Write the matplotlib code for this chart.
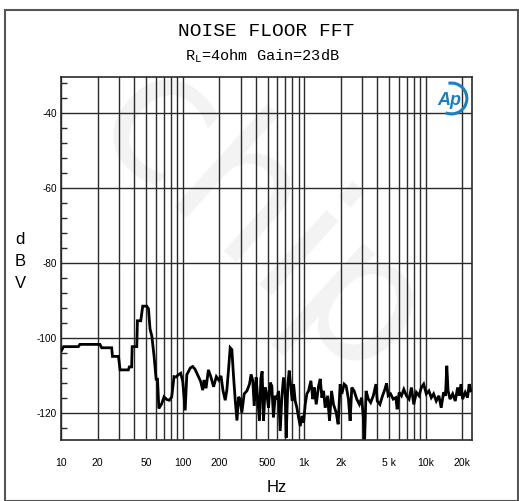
import matplotlib
matplotlib.use("Agg")
import matplotlib.pyplot as plt
from matplotlib.ticker import FixedLocator, NullLocator, MultipleLocator, NullFormatter
from matplotlib.patches import Arc, Rectangle

# noise floor FFT trace (Hz, dBV)
freq_hz = [
    10.1, 10.5, 13.9, 14.3, 20.9, 21.6, 26.1, 26.5, 29.7, 30.6, 35.8, 36.5, 38.1,
    38.5, 42.0, 42.5, 45.3, 47.0, 50.7, 52.4, 54.0, 55.8, 58.3, 60.6, 62.2, 63.8,
    67.4, 70.4, 74.1, 77.9, 81.4, 85.0, 88.3, 92.3, 96.6, 100.3, 105, 108.3, 115.6,
    121, 126.4, 134.9, 140.9, 146.4, 150.1, 155.9, 163, 170.6, 179.8, 189.5, 198.1,
    207, 214.6, 224.1, 231.2, 238.6, 246.3, 254.3, 262.5, 271, 279.9, 288.9,
    297, 307, 321, 338, 355, 366, 378, 388, 403, 413, 429, 440, 451, 463, 478, 493,
    509, 526, 542, 559, 578, 596, 615, 635, 655, 676, 698, 711, 734, 753, 777, 797,
    818, 844, 871, 899, 928, 957, 988, 1020, 1052, 1086, 1135, 1179, 1210, 1256,
    1313, 1355, 1398, 1443, 1489, 1557, 1616, 1679, 1743, 1833, 1903, 1976, 2039,
    2132, 2214, 2313, 2387, 2464, 2575, 2706, 2843, 2970, 3066, 3143, 3227, 3370,
    3521, 3703, 3890, 3991, 4196, 4410, 4610, 4758, 4910, 5133, 5395, 5671, 5817,
    6043, 6314, 6599, 6935, 7289, 7619, 7967, 8372, 8800, 9196, 9609, 10100, 10614,
    11099, 11601, 12193, 12815, 13398, 14005, 14531, 14891, 15257, 15834, 16640,
    17487, 18275, 18858, 19465, 20083, 21112, 22046, 22742, 23462,
]
level_dbv = [
    -103.4, -102.4, -102.4, -101.8, -101.8, -102.7, -102.7, -105.0, -105.0, -108.6,
    -108.6, -107.8, -107.8, -102.4, -102.4, -95.5, -95.5, -91.6, -91.6, -92.3,
    -97.7, -99.5, -105.0, -111.1, -111.1, -118.9, -117.6, -115.8, -116.5, -116.7,
    -115.8, -110.4, -110.5, -109.9, -109.5, -111.7, -119.4, -109.9, -108.1, -107.7,
    -108.4, -110.4, -111.7, -114.0, -111.3, -113.5, -108.6, -110.4, -113.1, -110.4,
    -111.3, -110.2, -114.0, -116.7, -114.0, -108.6, -102.7, -103.2, -110.4, -116.7,
    -122.1, -115.8,
    -116.4, -120.0, -115.0, -114.2, -112.4, -109.8, -111.5, -118.2, -110.6, -115.5,
    -122.2, -111.0, -109.0, -122.2, -113.3, -115.0, -118.7, -112.0, -112.9, -121.3,
    -115.5, -116.4, -114.2, -124.9, -116.0, -110.6, -115.0, -126.7, -112.4, -108.8,
    -113.3, -116.9, -112.4, -116.9, -118.7, -121.3, -123.6, -120.9, -122.7, -117.8,
    -115.0, -114.2, -111.5, -116.4, -113.3, -117.8, -112.9, -111.0, -116.0, -114.2,
    -118.7, -115.5, -122.2, -114.2, -117.8, -120.0, -123.1, -112.4, -115.0, -112.4,
    -112.9, -116.4, -122.2, -113.3, -114.2, -116.4, -117.8, -116.0, -121.3, -127.1,
    -114.2, -116.4, -117.3, -115.5, -112.4, -116.9, -117.8, -115.5, -113.8, -112.2,
    -115.5, -115.0, -116.4, -116.0, -119.1, -114.6, -115.5, -113.8, -115.5, -116.4,
    -113.3, -117.8, -114.6, -115.5, -113.3, -112.4, -115.0, -114.2, -116.0, -115.0,
    -116.9, -115.5, -118.7, -114.6, -115.5, -107.5, -114.2, -116.4, -115.0, -116.9,
    -113.3, -115.5, -112.4, -116.4, -114.6, -116.0, -112.4, -114.2,
]

x_grid = [m * 10 ** d for d in range(1, 5) for m in range(1, 10) if m * 10 ** d <= 24000]
x_ticks = [10, 20, 50, 100, 200, 500, 1000, 2000, 5000, 10000, 20000]
x_labels = ["10", "20", "50", "100", "200", "500", "1k", "2k", "5 k", "10k", "20k"]
y_ticks = [-40, -60, -80, -100, -120]

W, H = 519, 501
fig = plt.figure(figsize=(W / 100, H / 100), dpi=100)

# faint watermark, kept behind the axes
fig.text(0.5, 0.55, "chip", fontsize=130, color="#f3f3f3", rotation=-42,
         ha="center", va="center", zorder=-5)

left, right, top, bottom = 61, 472, 76.7, 440
ax = fig.add_axes([left / W, 1 - bottom / H, (right - left) / W, (bottom - top) / H])
ax.set_facecolor("none")
ax.set_zorder(2)

ax.plot(freq_hz, level_dbv, color="black", lw=2.0, solid_joinstyle="miter", zorder=3)

ax.set_xscale("log")
ax.set_xlim(10, 24000)
ax.set_ylim(-127.3, -30.4)

for f in x_grid:
    ax.axvline(f, color="#2a2a2a", lw=1.0, zorder=1)
for y in y_ticks:
    ax.axhline(y, color="#2a2a2a", lw=1.0, zorder=1)

ax.xaxis.set_major_locator(FixedLocator(x_ticks))
ax.xaxis.set_minor_locator(NullLocator())
ax.set_xticklabels(x_labels, fontsize=7.5, family="Liberation Sans")
ax.tick_params(axis="x", which="major", length=0, pad=13)

ax.yaxis.set_major_locator(FixedLocator(y_ticks))
ax.yaxis.set_minor_locator(MultipleLocator(4))
ax.yaxis.set_minor_formatter(NullFormatter())
ax.set_yticklabels([str(v) for v in y_ticks], fontsize=7.2, family="Liberation Sans")
ax.tick_params(axis="y", which="major", length=0, pad=3)
ax.tick_params(axis="y", which="minor", direction="in", length=4.5, width=1.0, color="#2a2a2a")

for s in ax.spines.values():
    s.set_color("#2a2a2a")
    s.set_linewidth(1.2)

# AP logo
logo = "#1d7fc0"
ax.text(0.945, 0.935, "Ap", transform=ax.transAxes, fontsize=13, color=logo,
        fontweight="bold", fontstyle="italic", ha="center", va="center",
        family="Liberation Sans", zorder=4)
ax.add_patch(Arc((0.95, 0.94), 0.075, 0.085, theta1=-110, theta2=100,
                 transform=ax.transAxes, color=logo, lw=2.2, zorder=4))

fig.text(266 / W, 1 - 32 / H, "NOISE FLOOR FFT", fontsize=14, family="Liberation Mono",
         ha="center", va="center")
fig.text(262 / W, 1 - 56 / H, r"R$_\mathregular{L}$=4ohm Gain=23dB", fontsize=11,
         family="Liberation Mono", ha="center", va="center")

fig.text(277 / W, 1 - 488 / H, "Hz", fontsize=12, family="Liberation Sans",
         ha="center", va="center")
for ch, yy in zip(["d", "B", "V"], [240, 262, 283]):
    fig.text(20 / W, 1 - yy / H, ch, fontsize=12, family="Liberation Sans",
             ha="center", va="center")

fig.add_artist(Rectangle((5 / W, 0), 513 / W, 1 - 10 / H, transform=fig.transFigure,
                         fill=False, edgecolor="#555555", lw=1.5))

fig.savefig("out.png", dpi=100)
